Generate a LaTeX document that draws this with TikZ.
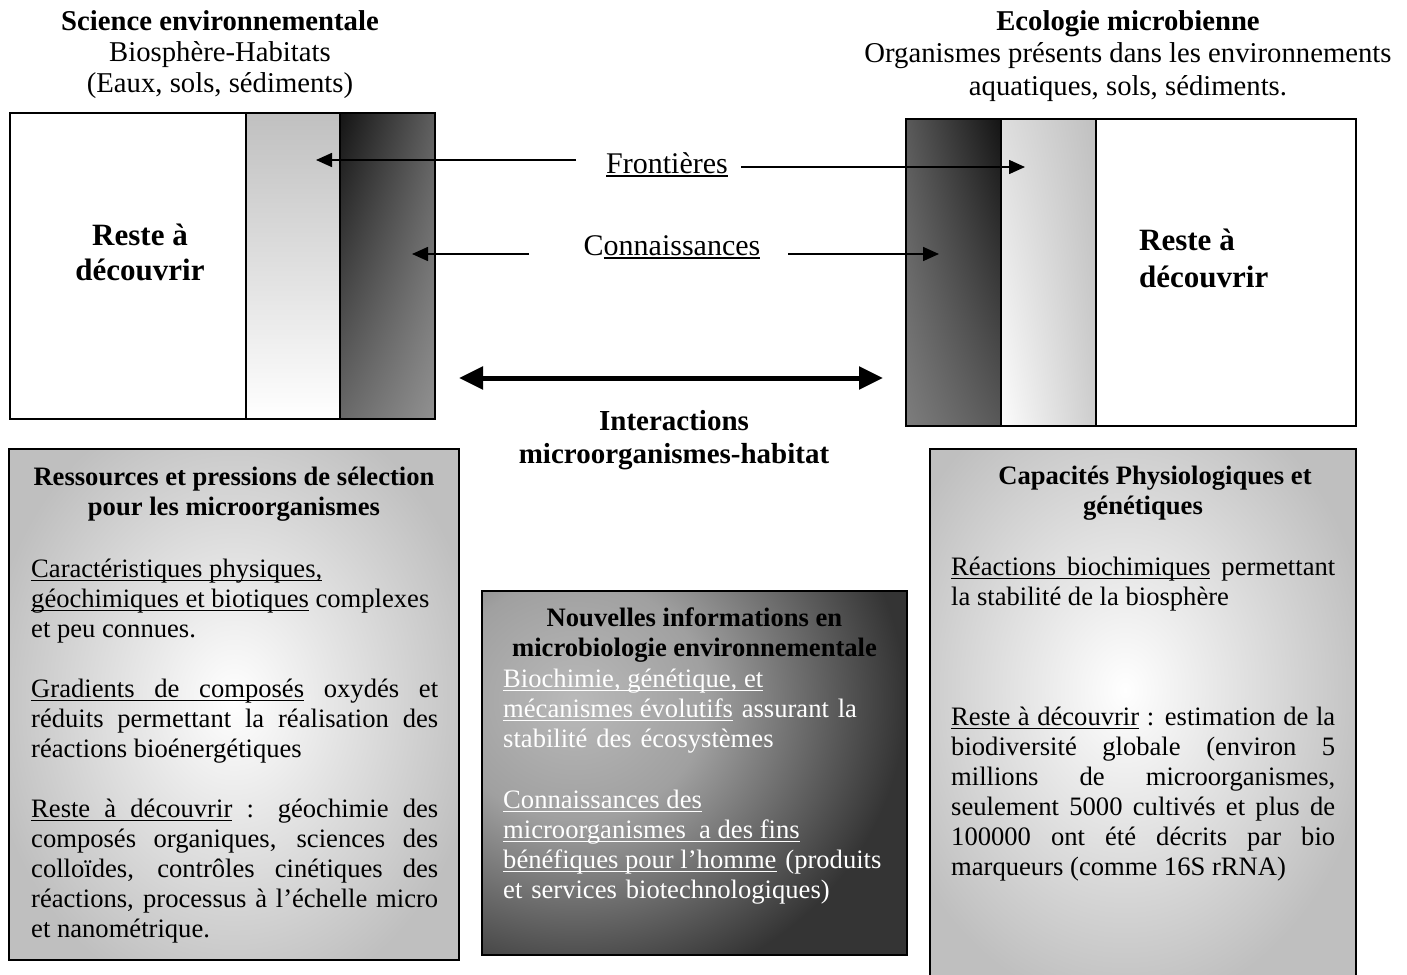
\documentclass[tikz,border=0pt]{standalone}
\usepackage{fontspec}
\setmainfont{Liberation Serif}
\usetikzlibrary{arrows.meta,shadings}
\setlength{\parindent}{0pt}
\lineskiplimit=-100pt
\hbadness=10000
\hyphenpenalty=10000
\newcommand\ulw[1]{\leavevmode\setbox0\hbox{#1}\rlap{\rule[-3.7pt]{\wd0}{1.3pt}}\box0\relax}
\newcommand\ulsp{\leaders\hrule height -2.4pt depth 3.7pt\hskip\fontdimen2\font plus \fontdimen3\font minus \fontdimen4\font\relax}
\definecolor{lg}{RGB}{192,192,192}
\definecolor{dA}{RGB}{20,20,20}
\definecolor{dB}{RGB}{95,95,95}
\definecolor{dC}{RGB}{105,105,105}
\definecolor{dD}{RGB}{145,145,145}
\definecolor{eA}{RGB}{90,90,90}
\definecolor{eB}{RGB}{20,20,20}
\definecolor{eC}{RGB}{125,125,125}
\definecolor{eD}{RGB}{88,88,88}
\definecolor{fA}{RGB}{222,222,222}
\definecolor{fB}{RGB}{192,192,192}
\definecolor{fC}{RGB}{252,252,252}
\definecolor{fD}{RGB}{205,205,205}
\definecolor{bg}{RGB}{191,191,191}
\definecolor{mA}{RGB}{185,185,185}
\definecolor{mB}{RGB}{160,160,160}
\definecolor{mC}{RGB}{52,52,52}
\pgfdeclareradialshading{midspot}{\pgfpoint{0bp}{0bp}}{color(0bp)=(mA); color(10bp)=(mB); color(25bp)=(mC); color(50bp)=(mC)}
\newcommand\bodyfont{\fontsize{26.6}{30}\selectfont}
\newcommand\topfont{\fontsize{28.7}{31}\selectfont}
\newcommand\midfont{\fontsize{30}{33}\selectfont}
\newcommand\resfont{\fontsize{31}{35}\selectfont\bfseries}
\newcommand\st{\rule{0pt}{24pt}}
\tikzset{
  boxline/.style={draw=black, line width=1.6pt},
  thinarr/.style={line width=1.6pt, arrows={-Triangle[length=16pt,width=14pt]}},
  bigarr/.style={line width=5pt, arrows={Triangle[length=24pt,width=22pt]-Triangle[length=24pt,width=22pt]}},
  ttl/.style={inner sep=0pt, anchor=north, align=center},
  oneline/.style={inner sep=0pt, anchor=base},
  body/.style={inner sep=0pt, anchor=north west, font=\bodyfont}
}
\begin{document}
\begin{tikzpicture}[x=1pt,y=-1pt]
\useasboundingbox (0,0) rectangle (1407,974);

% ---------- top left box ----------
\fill[white] (10,113) rectangle (246,419);
\shade[top color=lg, bottom color=white] (246,113) rectangle (340,419);
\shade[upper left=dA, upper right=dB, lower left=dC, lower right=dD] (340,113) rectangle (435,419);
\draw[boxline] (10,113) rectangle (435,419) (246,113) -- (246,419) (340,113) -- (340,419);

% ---------- top right box ----------
\fill[white] (1096,119) rectangle (1356,426);
\shade[upper left=eA, upper right=eB, lower left=eC, lower right=eD] (906,119) rectangle (1001,426);
\shade[upper left=fA, upper right=fB, lower left=fC, lower right=fD] (1001,119) rectangle (1096,426);
\draw[boxline] (906,119) rectangle (1356,426) (1001,119) -- (1001,426) (1096,119) -- (1096,426);

% ---------- bottom left box ----------
\begin{scope}
  \clip (9,449) rectangle (459,960);
  \fill[bg] (9,449) rectangle (459,960);
  \shade[inner color=white, outer color=bg] (234,700) ellipse [x radius=250pt, y radius=310pt];
\end{scope}
\draw[boxline] (9,449) rectangle (459,960);

% ---------- middle box ----------
\begin{scope}
  \clip (482,591) rectangle (907,955);
  \fill[mC] (482,591) rectangle (907,955);
  \shade[shading=midspot] (575,700) ellipse [x radius=330pt, y radius=300pt];
\end{scope}
\draw[boxline] (482,591) rectangle (907,955);

% ---------- bottom right box (runs past the lower edge) ----------
\begin{scope}
  \clip (930,449) rectangle (1356,995);
  \fill[bg] (930,449) rectangle (1356,995);
  \shade[inner color=white, outer color=bg] (1125,690) ellipse [x radius=250pt, y radius=320pt];
\end{scope}
\draw[boxline] (930,995) -- (930,449) -- (1356,449) -- (1356,995);

% ---------- top titles ----------
\node[ttl, font=\topfont] (sci) at (220,6) {\st\textbf{Science environnementale}\\Biosphère-Habitats\\(Eaux, sols, sédiments)};
\node[ttl, font=\topfont] (eco) at (1128,6) {\st\textbf{Ecologie microbienne}\\[1.5pt]Organismes présents dans les environnements\\[1.5pt]aquatiques, sols, sédiments.};

% ---------- Reste a decouvrir ----------
\node[ttl, font=\resfont] (restL) at (140,221) {\st Reste à\\découvrir};
\node[inner sep=0pt, anchor=north west, align=left, font=\resfont] (restR) at (1139,226) {\st Reste à\\[2pt]découvrir};

% ---------- middle labels ----------
\node[oneline, font=\midfont] (front) at (667,173) {\ulw{Frontières}};
\node[oneline, font=\midfont] (conn) at (672,255) {C\ulw{onnaissances}};
\node[ttl, font=\fontsize{29}{33}\selectfont\bfseries] (inter) at (674,406) {\st Interactions\\microorganismes-habitat};

% ---------- arrows ----------
\coordinate (frL) at (576,160);
\coordinate (frLt) at (316,160);
\coordinate (frR) at (741,167);
\coordinate (frRt) at (1025,167);
\coordinate (coL) at (529,254);
\coordinate (coLt) at (412,254);
\coordinate (coR) at (788,254);
\coordinate (coRt) at (939,254);
\coordinate (iaL) at (459,378);
\coordinate (iaR) at (883,378);
\draw[thinarr] (frL) -- (frLt);
\draw[thinarr] (frR) -- (frRt);
\draw[thinarr] (coL) -- (coLt);
\draw[thinarr] (coR) -- (coRt);
\draw[bigarr] (iaL) -- (iaR);

% ---------- bottom left text ----------
\node[ttl, font=\bodyfont\bfseries] (ltitle) at (234,461) {\st Ressources et pressions de sélection\\pour les microorganismes};
\node[body, text width=407pt, align=justify] (lbody) at (31,553) {\st\ulw{Caractéristiques}\ulsp\ulw{physiques,}\newline
\ulw{géochimiques}\ulsp\ulw{et}\ulsp\ulw{biotiques} complexes\newline
et peu connues.\par\vspace{30pt}
\ulw{Gradients}\ulsp\ulw{de}\ulsp\ulw{composés} oxydés et\linebreak réduits permettant la réalisation des\linebreak réactions bioénergétiques\par\vspace{30pt}
\ulw{Reste}\ulsp\ulw{à}\ulsp\ulw{découvrir} : géochimie des\linebreak composés organiques, sciences des\linebreak colloïdes, contrôles cinétiques des\linebreak réactions, processus à l’échelle micro\linebreak et nanométrique.};

% ---------- middle text ----------
\node[ttl, font=\bodyfont\bfseries] (mtitle) at (694.5,602) {\st Nouvelles informations en\\microbiologie environnementale};
\node[body, text width=400pt, align=left, text=white] (mbody) at (503,663) {\st\ulw{Biochimie,}\ulsp\ulw{génétique,}\ulsp\ulw{et}\newline
\ulw{mécanismes}\ulsp\ulw{évolutifs} assurant la\newline
stabilité des écosystèmes\par\vspace{31pt}
\ulw{Connaissances}\ulsp\ulw{des}\newline
\ulw{microorganismes}\ulsp\ulsp\ulw{a}\ulsp\ulw{des}\ulsp\ulw{fins}\newline
\ulw{bénéfiques}\ulsp\ulw{pour}\ulsp\ulw{l’homme} (produits\newline
et services biotechnologiques)};

% ---------- bottom right text ----------
\node[ttl, font=\bodyfont\bfseries] (rtitle) at (1149,460) {\st\hspace*{12pt}Capacités Physiologiques et\\génétiques\hspace*{12pt}};
\node[body, text width=384pt, align=justify] (rbody) at (951,551) {\st\ulw{Réactions}\ulsp\ulw{biochimiques} permettant\linebreak la stabilité de la biosphère\par\vspace{90pt}
\ulw{Reste}\ulsp\ulw{à}\ulsp\ulw{découvrir} : estimation de la\linebreak biodiversité globale (environ 5\linebreak millions de microorganismes,\linebreak seulement 5000 cultivés et plus de\linebreak 100000 ont été décrits par bio\linebreak marqueurs (comme 16S rRNA)};
\end{tikzpicture}
\end{document}
